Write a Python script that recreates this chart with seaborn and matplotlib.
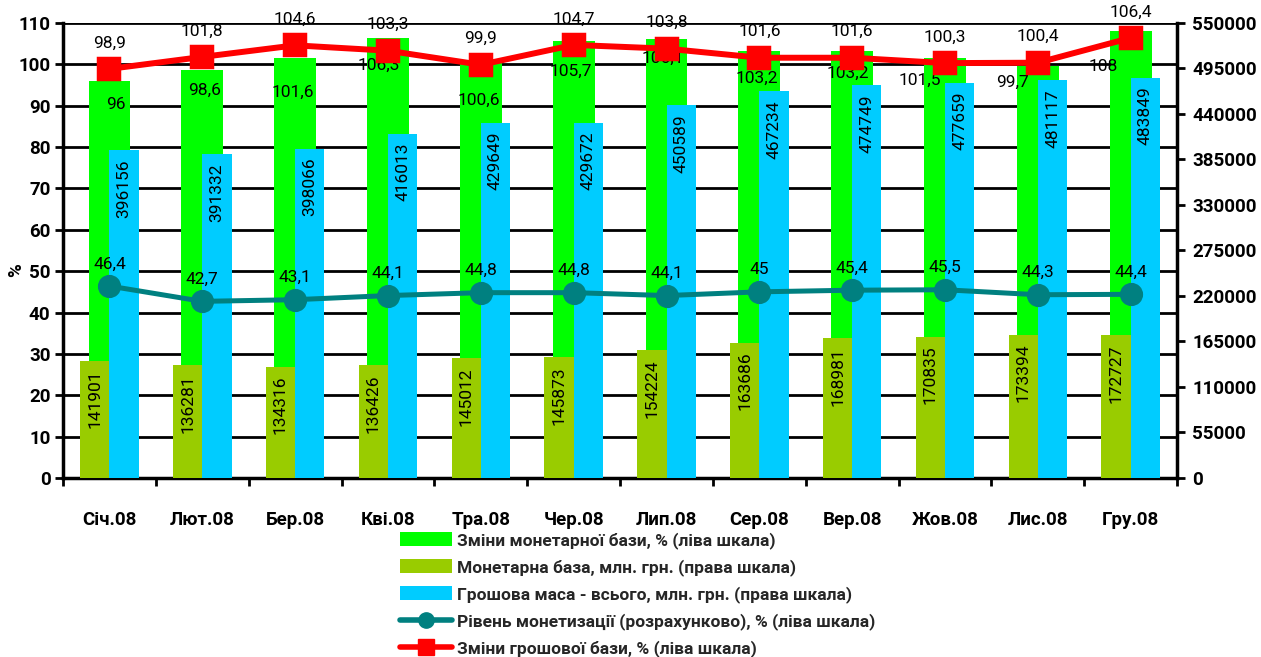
import numpy as np
import pandas as pd
import matplotlib
matplotlib.use("Agg")
import matplotlib.pyplot as plt
import seaborn as sns
from matplotlib.patches import Patch
from matplotlib.lines import Line2D

# Monthly data, 2008
months = ["Січ.08", "Лют.08", "Бер.08", "Кві.08", "Тра.08", "Чер.08",
          "Лип.08", "Сер.08", "Вер.08", "Жов.08", "Лис.08", "Гру.08"]
base_change = [96, 98.6, 101.6, 106.3, 100.6, 105.7, 106.1, 103.2, 103.2, 101.5, 99.7, 108]
monetary_base = [141901, 136281, 134316, 136426, 145012, 145873,
                 154224, 163686, 168981, 170835, 173394, 172727]
money_supply = [396156, 391332, 398066, 416013, 429649, 429672,
                450589, 467234, 474749, 477659, 481117, 483849]
monetization = [46.4, 42.7, 43.1, 44.1, 44.8, 44.8, 44.1, 45, 45.4, 45.5, 44.3, 44.4]
cash_base_change = [98.9, 101.8, 104.6, 103.3, 99.9, 104.7, 103.8, 101.6, 101.6, 100.3, 100.4, 106.4]

series_names = [
    "Зміни монетарної бази, % (ліва шкала)",
    "Монетарна база, млн. грн. (права шкала)",
    "Грошова маса - всього, млн. грн. (права шкала)",
    "Рівень монетизації (розрахунково), % (ліва шкала)",
    "Зміни грошової бази, % (ліва шкала)",
]

# Hand-placed label offsets (pixels) for the monetary-base-change labels,
# nudged so they don't collide with the line labels and neighbouring bars
green_label_dx = [6, 2, -2, -9, -2, -3, -4, -3, -4, -25, -25, -27]
green_label_dy = [-24, -20, -35, -27, -38, -31, -19, -27, -22, -22, -17, -35]

GREEN = "#00FF00"
OLIVE = "#99CC00"
CYAN = "#00CCFF"
TEAL = "#008080"
RED = "#FF0000"

sns.set_theme(style="white")
plt.rcParams["font.family"] = ["Roboto", "DejaVu Sans"]


def fmt(v):
    return f"{v:g}".replace(".", ",")


fig = plt.figure(figsize=(12.61, 6.57), dpi=100)
ax = fig.add_axes([0.050, 0.2725, 0.8835, 0.6925])
ax2 = ax.twinx()
ax3 = ax.twinx()

# Left scale: change of the monetary base (wide bars at the back)
sns.barplot(x=months, y=base_change, order=months, ax=ax, color=GREEN,
            saturation=1, width=0.45, linewidth=0, errorbar=None)

# Right scale: monetary base and money supply, side by side
right_df = pd.DataFrame({
    "month": months * 2,
    "value": monetary_base + money_supply,
    "series": [series_names[1]] * len(months) + [series_names[2]] * len(months),
})
sns.barplot(data=right_df, x="month", y="value", hue="series", order=months,
            hue_order=[series_names[1], series_names[2]],
            palette=[OLIVE, CYAN], saturation=1, width=0.63, linewidth=0,
            errorbar=None, legend=False, ax=ax2)

# Left scale lines
sns.pointplot(x=months, y=monetization, order=months, ax=ax3, color=TEAL,
              markers="o", markersize=14, linewidth=3.6, errorbar=None)
sns.pointplot(x=months, y=cash_base_change, order=months, ax=ax3, color=RED,
              markers="s", markersize=14, linewidth=4.3, errorbar=None)

ax.set_ylim(0, 110)
ax3.set_ylim(0, 110)
ax2.set_ylim(0, 550000)

LABEL_FS = 12.5

# Data labels
for p, v, dx, dy in zip(ax.containers[0], base_change, green_label_dx, green_label_dy):
    ax.annotate(fmt(v), (p.get_x() + p.get_width() / 2, p.get_height()),
                xytext=(dx, dy), textcoords="offset pixels",
                ha="center", va="center", fontsize=LABEL_FS, color="black")

for cont, vals in zip(ax2.containers, [monetary_base, money_supply]):
    for p, v in zip(cont, vals):
        ax2.annotate(str(v), (p.get_x() + p.get_width() / 2, p.get_height()),
                     xytext=(0, -9), textcoords="offset pixels",
                     ha="center", va="top", rotation=90, fontsize=LABEL_FS,
                     color="black")

for i, v in enumerate(monetization):
    ax3.annotate(fmt(v), (i, v), xytext=(0, 22), textcoords="offset pixels",
                 ha="center", va="center", fontsize=LABEL_FS, color="black")
for i, v in enumerate(cash_base_change):
    ax3.annotate(fmt(v), (i, v), xytext=(0, 26), textcoords="offset pixels",
                 ha="center", va="center", fontsize=LABEL_FS, color="black")

# Axes styling
ax.set_xlim(-0.5, len(months) - 0.5)
ax.set_yticks(np.arange(0, 111, 10))
ax2.set_yticks(np.arange(0, 550001, 55000))
ax3.set_yticks([])

ax.set_xticks(np.arange(len(months) + 1) - 0.5, labels=[])
ax.set_xticks(np.arange(len(months)), labels=months, minor=True)
ax.tick_params(axis="x", which="major", bottom=True, length=6, width=2,
               direction="out", color="black")
ax.tick_params(axis="x", which="minor", bottom=True, length=0, pad=24,
               labelsize=13.5)
ax.tick_params(axis="y", left=True, length=6, width=2, direction="out",
               labelsize=13.5, pad=3, color="black")
ax2.tick_params(axis="y", right=True, length=6, width=2, direction="out",
                labelsize=13.5, pad=5, color="black")
for lab in ax.get_xticklabels(minor=True) + ax.get_yticklabels() + ax2.get_yticklabels():
    lab.set_fontweight("bold")
    lab.set_color("black")

ax.yaxis.grid(True, color="black", linewidth=2)
ax.xaxis.grid(False)
ax.set_axisbelow(True)

for a in (ax, ax2, ax3):
    a.set_xlabel("")
    a.set_ylabel("")
    a.spines["top"].set_visible(False)
for s in ax3.spines.values():
    s.set_visible(False)
ax2.spines["left"].set_visible(False)
ax2.spines["bottom"].set_visible(False)
for a, side in ((ax, "left"), (ax, "bottom"), (ax2, "right")):
    a.spines[side].set_color("black")
    a.spines[side].set_linewidth(2.5)
ax.spines["right"].set_visible(False)

ax.set_ylabel("%", fontsize=13.5, fontweight="bold", color="black")
ax.yaxis.set_label_coords(-0.034, 0.457)

# Legend below the plot
handles = [
    Patch(facecolor=GREEN, edgecolor="none"),
    Patch(facecolor=OLIVE, edgecolor="none"),
    Patch(facecolor=CYAN, edgecolor="none"),
    Line2D([], [], color=TEAL, lw=4, marker="o", markersize=11),
    Line2D([], [], color=RED, lw=4, marker="s", markersize=11),
]
fig.legend(handles, series_names, loc="upper left",
           bbox_to_anchor=(400 / 1261, 1 - 532 / 657), frameon=False,
           prop={"weight": "bold", "size": 12.5}, handlelength=3.0,
           handleheight=0.9, handletextpad=0.3, labelspacing=0.58,
           borderpad=0, borderaxespad=0)

fig.savefig("out.png", dpi=100)
